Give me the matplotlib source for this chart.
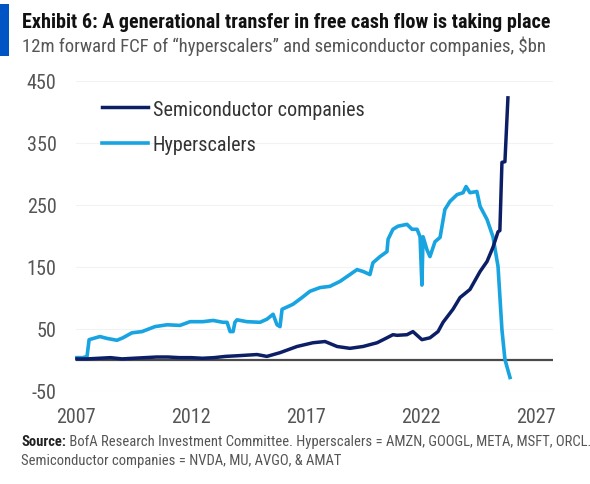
import matplotlib
matplotlib.use("Agg")
import matplotlib.pyplot as plt
from matplotlib import font_manager
from matplotlib.patches import Rectangle

# 12m forward FCF, $bn
semi_years = [2007.04, 2007.5, 2008.0, 2008.5, 2009.0, 2009.5, 2010.0, 2010.5, 2011.0,
              2011.5, 2012.0, 2012.5, 2013.0, 2013.5, 2014.0, 2014.87, 2015.30, 2015.87,
              2016.61, 2017.30, 2017.83, 2018.35, 2018.91, 2019.48, 2020.09, 2020.52,
              2020.78, 2020.96, 2021.39, 2021.65, 2022.04, 2022.39, 2022.74, 2022.96,
              2023.39, 2023.70, 2024.13, 2024.57, 2024.87, 2025.13, 2025.35, 2025.43,
              2025.52, 2025.65, 2025.78]
semi_fcf = [1, 1, 2, 3, 1, 2, 3, 4, 4,
            3, 3, 2, 3, 5, 6, 8, 5, 11,
            21, 27, 29, 21, 18, 21, 27, 35,
            40, 39, 40, 45, 32, 35, 45, 60,
            81, 100, 113, 142, 158, 181, 206, 208,
            318, 319, 422]

hyper_years = [2007.04, 2007.30, 2007.48, 2007.57, 2008.04, 2008.35, 2008.78, 2009.04,
               2009.43, 2009.87, 2010.43, 2010.96, 2011.52, 2011.96, 2012.52, 2012.96,
               2013.39, 2013.57, 2013.70, 2013.83, 2013.91, 2014.00, 2014.43, 2015.00,
               2015.30, 2015.57, 2015.74, 2015.87, 2015.96, 2016.43, 2016.83, 2017.17,
               2017.61, 2018.04, 2018.48, 2018.91, 2019.22, 2019.48, 2019.78, 2019.91,
               2020.22, 2020.52, 2020.57, 2020.78, 2021.00, 2021.39, 2021.61, 2021.83,
               2021.96, 2022.04, 2022.09, 2022.26, 2022.39, 2022.61, 2022.83, 2023.04,
               2023.26, 2023.57, 2023.83, 2023.96, 2024.13, 2024.43, 2024.57, 2024.87,
               2025.13, 2025.35, 2025.52, 2025.65, 2025.87]
hyper_fcf = [3, 3, 5, 32, 37, 34, 31, 35,
             43, 45, 53, 56, 55, 61, 61, 63,
             60, 60, 45, 45, 60, 64, 61, 60,
             65, 73, 56, 53, 81, 89, 100, 110,
             116, 118, 126, 137, 145, 142, 137, 156,
             166, 174, 194, 210, 215, 218, 210, 210,
             198, 120, 198, 177, 166, 190, 197, 242,
             255, 266, 269, 279, 269, 271, 247, 226,
             198, 150, 48, 0, -29]

x_ticks = [2007, 2012, 2017, 2022, 2027]
y_ticks = [-50, 50, 150, 250, 350, 450]

title = "Exhibit 6: A generational transfer in free cash flow is taking place"
subtitle = "12m forward FCF of \u201chyperscalers\u201d and semiconductor companies, $bn"
source_bold = "Source:"
source_rest = " BofA Research Investment Committee. Hyperscalers = AMZN, GOOGL, META, MSFT, ORCL."
source_line2 = "Semiconductor companies = NVDA, MU, AVGO, & AMAT"

NAVY = "#0c1f66"
LIGHT = "#17a4e0"
GREY = "#555555"

# the reference uses a condensed face; take one if the box has it
installed = sorted({f.name for f in font_manager.fontManager.ttflist})
narrow = [n for n in installed if "Condensed" in n or "Narrow" in n]
pref = ["Roboto Condensed", "Liberation Sans Narrow", "Open Sans Condensed",
        "Noto Sans Condensed", "DejaVu Sans Condensed"]
FONT = next((p for p in pref if p in installed), narrow[0] if narrow else "Roboto")
plt.rcParams["font.family"] = [FONT, "DejaVu Sans"]
plt.rcParams["axes.unicode_minus"] = False

W, H = 590, 485
fig = plt.figure(figsize=(W / 100, H / 100), dpi=100)
renderer = fig.canvas.get_renderer()


def width_of(txt):
    return txt.get_window_extent(renderer).width


def fit(txt, target_px):
    # scale a text so its width matches the reference
    txt.set_fontsize(txt.get_fontsize() * target_px / width_of(txt))
    return txt


# size the tick font so "2007" is about as wide as in the reference
probe = fig.text(0, 0, "2007", fontsize=14)
tick_fs = 14 * 40 / width_of(probe)
probe.remove()

ax = fig.add_axes([76 / W, 1 - 391.5 / H, 477 / W, 310 / H])
ax.set_xlim(2007.0, 2027.74)
ax.set_ylim(-50, 450)

for y in y_ticks:
    ax.axhline(y, color="#f2f2f2", lw=0.8, zorder=0)
ax.axhline(0, color="#4a4a4a", lw=1.6, zorder=1)

ax.plot(semi_years, semi_fcf, color=NAVY, lw=2.5, label="Semiconductor companies",
        solid_joinstyle="round", zorder=3, clip_on=False)
ax.plot(hyper_years, hyper_fcf, color=LIGHT, lw=2.6, label="Hyperscalers",
        solid_joinstyle="round", zorder=2, clip_on=False)

ax.set_xticks(x_ticks)
ax.set_yticks(y_ticks)
ax.tick_params(length=0, labelsize=tick_fs, labelcolor=GREY)
ax.tick_params(axis="y", pad=14)
ax.tick_params(axis="x", pad=12)
for s in ax.spines.values():
    s.set_visible(False)

leg_fs = tick_fs
px = leg_fs * 100 / 72
leg = ax.legend(loc="upper left", bbox_to_anchor=(26 / 477, 1 - 19 / 310), frameon=False,
                fontsize=leg_fs, handlelength=46 / px, handletextpad=5 / px,
                labelspacing=(37 - px) / px, borderaxespad=0, borderpad=0)
for t in leg.get_texts():
    t.set_color("#333333")

# header
fig.add_artist(Rectangle((0, 1 - 57 / H), 9 / W, 52 / H, transform=fig.transFigure,
                         color="#0055c4", lw=0))
t1 = fig.text(22 / W, 1 - 28 / H, title, fontsize=13, weight="bold", color="#111111",
              va="baseline")
fit(t1, 524)
t2 = fig.text(22 / W, 1 - 52 / H, subtitle, fontsize=13, color=GREY, va="baseline")
fit(t2, 524)

# footnote, sized so the first line spans the same width as the reference
src_fs = 11
s1 = fig.text(21 / W, 1 - 446 / H, source_bold, fontsize=src_fs, weight="bold",
              color="#222222", va="baseline")
s2 = fig.text(0, 1 - 446 / H, source_rest, fontsize=src_fs, color=GREY, va="baseline")
src_fs = src_fs * 566 / (width_of(s1) + width_of(s2))
s1.set_fontsize(src_fs)
s2.set_fontsize(src_fs)
s2.set_x((21 + width_of(s1)) / W)
fig.text(21 / W, 1 - 465 / H, source_line2, fontsize=src_fs, color=GREY, va="baseline")

fig.savefig("out.png", dpi=100)
